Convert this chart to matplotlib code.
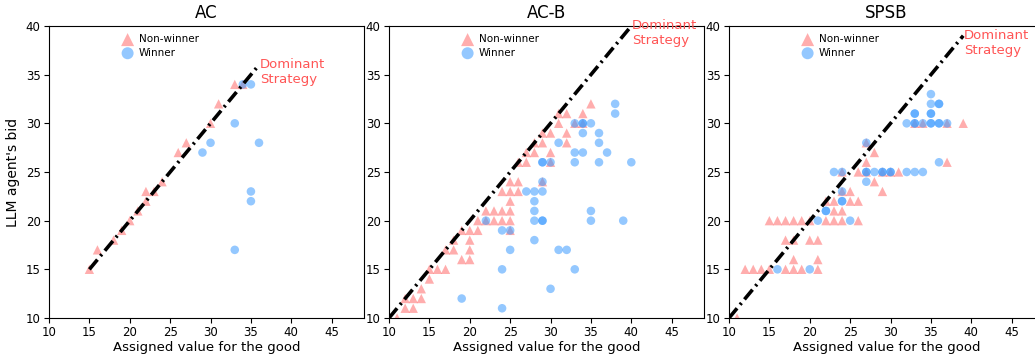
import numpy as np
import matplotlib
matplotlib.use("Agg")
import matplotlib.pyplot as plt

# (value, bid) pairs
titles = ["AC", "AC-B", "SPSB"]

ac_lose = [(15, 15), (16, 17), (18, 18), (19, 19), (20, 20), (21, 21), (22, 22),
           (22, 23), (23, 23), (24, 24), (26, 27), (27, 28), (30, 30), (31, 32),
           (33, 34), (34, 34)]
ac_win = [(34, 34), (35, 34), (33, 30), (30, 28), (29, 27), (36, 28), (35, 23),
          (35, 22), (33, 17)]

acb_lose = [(11, 10), (12, 11), (13, 11), (12, 12), (13, 12), (14, 12), (14, 13),
            (15, 14), (15, 15), (16, 15), (17, 15), (19, 16), (20, 16), (17, 17),
            (18, 17), (20, 17), (18, 18), (20, 18), (19, 19), (20, 19), (21, 19),
            (21, 20), (22, 20), (23, 20), (24, 20), (25, 20), (22, 21), (23, 21),
            (24, 21), (25, 21), (25, 19), (25, 22), (24, 23), (25, 23), (26, 23),
            (25, 24), (26, 24), (29, 24), (26, 26), (27, 26), (30, 26), (27, 27),
            (28, 27), (30, 27), (28, 28), (29, 28), (32, 28), (29, 29), (30, 29),
            (32, 29), (31, 30), (33, 30), (34, 30), (31, 31), (32, 31), (34, 31),
            (35, 32)]
acb_win = [(38, 32), (38, 31), (33, 30), (34, 30), (34, 30), (35, 30), (34, 29),
           (36, 29), (31, 28), (36, 28), (33, 27), (34, 27), (37, 27), (29, 26),
           (29, 26), (30, 26), (33, 26), (36, 26), (40, 26), (29, 24), (27, 23),
           (28, 23), (29, 23), (28, 22), (28, 21), (28, 20), (29, 20), (29, 20),
           (35, 21), (35, 20), (39, 20), (22, 20), (24, 19), (25, 19), (28, 18),
           (25, 17), (31, 17), (32, 17), (24, 15), (33, 15), (30, 13), (19, 12),
           (24, 11)]

spsb_lose = [(11, 10), (12, 15), (13, 15), (14, 15), (15, 15), (17, 15), (18, 15),
             (19, 15), (21, 15), (18, 16), (21, 16), (17, 18), (18, 18), (20, 18),
             (21, 18), (15, 20), (16, 20), (17, 20), (18, 20), (19, 20), (20, 20),
             (22, 20), (23, 20), (24, 20), (26, 20), (23, 21), (24, 21), (22, 22),
             (23, 22), (25, 22), (26, 22), (24, 23), (25, 23), (29, 23), (28, 24),
             (24, 25), (26, 25), (27, 25), (29, 25), (30, 25), (31, 25), (27, 26),
             (37, 26), (28, 27), (27, 28), (33, 30), (34, 30), (37, 30), (39, 30)]
spsb_win = [(16, 15), (20, 15), (21, 20), (25, 20), (22, 21), (22, 21), (24, 22),
            (24, 22), (24, 23), (27, 24), (23, 25), (24, 25), (27, 25), (27, 25),
            (28, 25), (29, 25), (29, 25), (30, 25), (30, 25), (32, 25), (33, 25),
            (34, 25), (36, 26), (27, 28), (32, 30), (33, 30), (33, 30), (34, 30),
            (35, 30), (35, 30), (36, 30), (36, 30), (37, 30), (33, 31), (33, 31),
            (35, 31), (35, 31), (35, 32), (36, 32), (36, 32), (35, 33)]

losers = [ac_lose, acb_lose, spsb_lose]
winners = [ac_win, acb_win, spsb_win]
dominant_range = [(15, 36), (10, 40), (10, 39)]

red = '#ff6b6b'
blue = '#3d9bff'

fig = plt.figure(figsize=(10.35, 3.58), dpi=100)
lefts = [49, 389, 729]

for i in range(3):
    ax = fig.add_axes([lefts[i] / 1035, 40 / 358, 315 / 1035, 292 / 358])
    lose = np.array(losers[i])
    win = np.array(winners[i])
    ax.scatter(lose[:, 0], lose[:, 1], marker='^', s=45, color=red, alpha=0.55,
               edgecolors='none', label='Non-winner')
    ax.scatter(win[:, 0], win[:, 1], marker='o', s=38, color=blue, alpha=0.55,
               edgecolors='none', label='Winner')
    lo, hi = dominant_range[i]
    v = np.array([lo, hi])
    ax.plot(v, v, color='k', lw=2.6, linestyle=(0, (3.5, 1.3, 0.6, 1.3)))
    ax.text(hi + 0.1, hi + 0.7, 'Dominant\nStrategy', color='#ff5555',
            fontsize=9.5, ha='left', va='top')
    ax.set_xlim(10, 49)
    ax.set_ylim(10, 40)
    ax.set_xticks(range(10, 50, 5))
    ax.set_yticks(range(10, 41, 5))
    ax.tick_params(labelsize=8.5, pad=2.5)
    ax.set_title(titles[i], fontsize=12)
    ax.set_xlabel('Assigned value for the good', fontsize=9.5, labelpad=1.5)
    if i == 0:
        ax.set_ylabel("LLM agent's bid", fontsize=10)
    ax.legend(loc='upper left', bbox_to_anchor=(0.19, 1.0), frameon=False,
              fontsize=7.5, markerscale=1.4, handletextpad=0.1, labelspacing=0.35,
              borderpad=0.3)

fig.savefig('out.png', dpi=100)
